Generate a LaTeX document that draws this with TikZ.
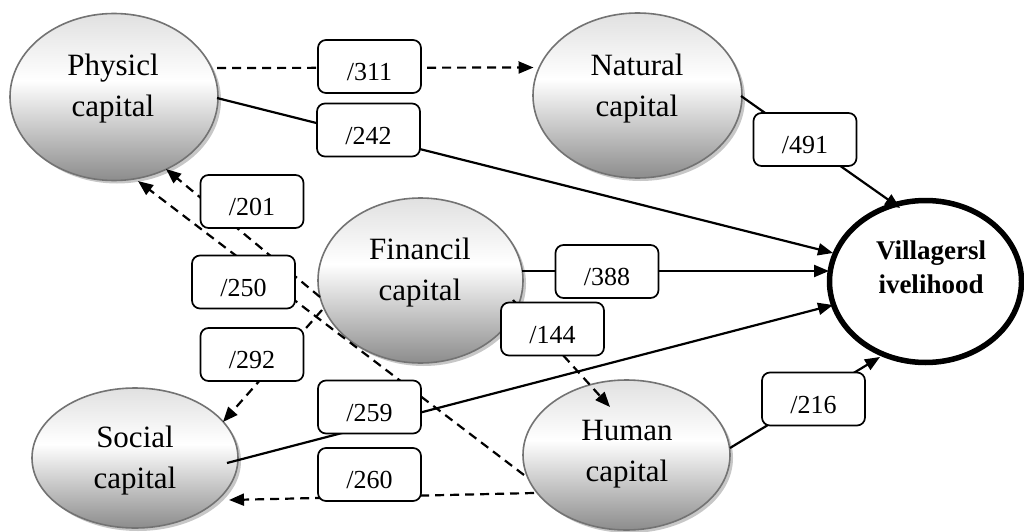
\documentclass[tikz,border=0pt]{standalone}
\usepackage{fontspec}
\setmainfont{Liberation Serif}
\usetikzlibrary{arrows.meta,shadows,calc,shapes.geometric}
\pgfdeclareverticalshading{capfill}{100bp}{color(0bp)=(black!45); color(25bp)=(black!45); color(55bp)=(white); color(75bp)=(black!12); color(100bp)=(black!12)}
\begin{document}
\begin{tikzpicture}[x=1pt,y=-1pt,
  capnode/.style={ellipse, inner sep=0pt, shading=capfill, draw=black!55, line width=1.6pt,
    drop shadow={shadow xshift=3pt, shadow yshift=-3pt, fill=black!22, opacity=1}},
  captext/.style={font=\fontsize{31}{41}\selectfont, align=center, inner sep=0pt},
  vilnode/.style={ellipse, inner sep=0pt, draw=black, fill=white, line width=5.5pt, minimum width=192pt, minimum height=162pt},
  viltext/.style={font=\bfseries\fontsize{27}{34}\selectfont, align=center, inner sep=0pt},
  labbox/.style={draw=black, line width=1.7pt, rounded corners=8pt, fill=white, minimum width=103pt,
    minimum height=53pt, inner sep=0pt, text height=28pt, text depth=0pt, font=\fontsize{26}{30}\selectfont},
  solidlink/.style={line width=2.2pt},
  dashlink/.style={line width=2.2pt, dash pattern=on 9pt off 6pt},
  arrowtip/.style={-{Triangle[length=15pt,width=12pt]}}
]
\fill[white] (0,0) rectangle (1024,532);
\useasboundingbox (0,0) rectangle (1024,532);

% ellipses
\node[capnode, minimum width=208pt, minimum height=167pt] (phys) at (114,97) {};
\node[capnode, minimum width=209pt, minimum height=165pt] (nat) at (637.5,95.5) {};
\node[capnode, minimum width=205pt, minimum height=165pt] (fin) at (420.5,280.5) {};
\node[capnode, minimum width=206pt, minimum height=140pt] (soc) at (135,458) {};
\node[capnode, minimum width=207pt, minimum height=150pt] (hum) at (626.5,455) {};
\node[vilnode] (vil) at (925.5,281.5) {};

% texts
\node[captext] (physT) at (113,89) {Physicl\\capital};
\node[captext] (natT) at (637,89) {Natural\\capital};
\node[captext] (finT) at (420,273) {Financil\\capital};
\node[captext] (humT) at (627,454) {Human\\capital};
\node[captext] (socT) at (135,461) {Social\\capital};
\node[viltext] (vilT) at (931,267) {Villagersl\\ivelihood};

% connectors
\draw[dashlink,arrowtip] ($(phys.center)+(103,-29)$) -- ($(nat.center)+(-104,-28)$);
\draw[solidlink,arrowtip] ($(phys.center)+(103,1)$) -- ($(vil.center)+(-92.5,-28.5)$);
\draw[solidlink,arrowtip] ($(nat.center)+(103.5,0.5)$) -- ($(vil.center)+(-25.5,-73.5)$);
\draw[solidlink,arrowtip] ($(fin.center)+(101.5,-9.5)$) -- ($(vil.center)+(-96.5,-10.5)$);
\draw[solidlink,arrowtip] ($(soc.center)+(92,5)$) -- ($(vil.center)+(-92.5,23.5)$);
\draw[solidlink,arrowtip] ($(hum.center)+(103.5,-7)$) -- ($(vil.center)+(-45.5,75.5)$);
\draw[dashlink,arrowtip] ($(hum.center)+(-92.5,38)$) -- ($(soc.center)+(94,42)$);
\draw[dashlink,arrowtip] ($(fin.center)+(92.5,19.5)$) -- ($(hum.center)+(-16.5,-48)$);
\draw[dashlink,arrowtip] ($(fin.center)+(-98.5,29.5)$) -- ($(soc.center)+(88,-36)$);
\draw[dashlink,arrowtip] ($(fin.center)+(-100.5,16.5)$) -- ($(phys.center)+(52,72)$);
\draw[dashlink,arrowtip] ($(hum.center)+(-102.5,20)$) -- ($(phys.center)+(24,84)$);

% labels
\node[labbox] (b311) at (369.5,66.5) {/311};
\node[labbox] (b242) at (368.5,130) {/242};
\node[labbox] (b491) at (805,139.5) {/491};
\node[labbox] (b201) at (252,201.5) {/201};
\node[labbox] (b250) at (243.5,282) {/250};
\node[labbox] (b292) at (252,354.5) {/292};
\node[labbox] (b388) at (607,271.5) {/388};
\node[labbox] (b144) at (552.5,329) {/144};
\node[labbox] (b259) at (369.5,407) {/259};
\node[labbox] (b260) at (369.5,474.5) {/260};
\node[labbox] (b216) at (813.5,399) {/216};
\end{tikzpicture}
\end{document}
